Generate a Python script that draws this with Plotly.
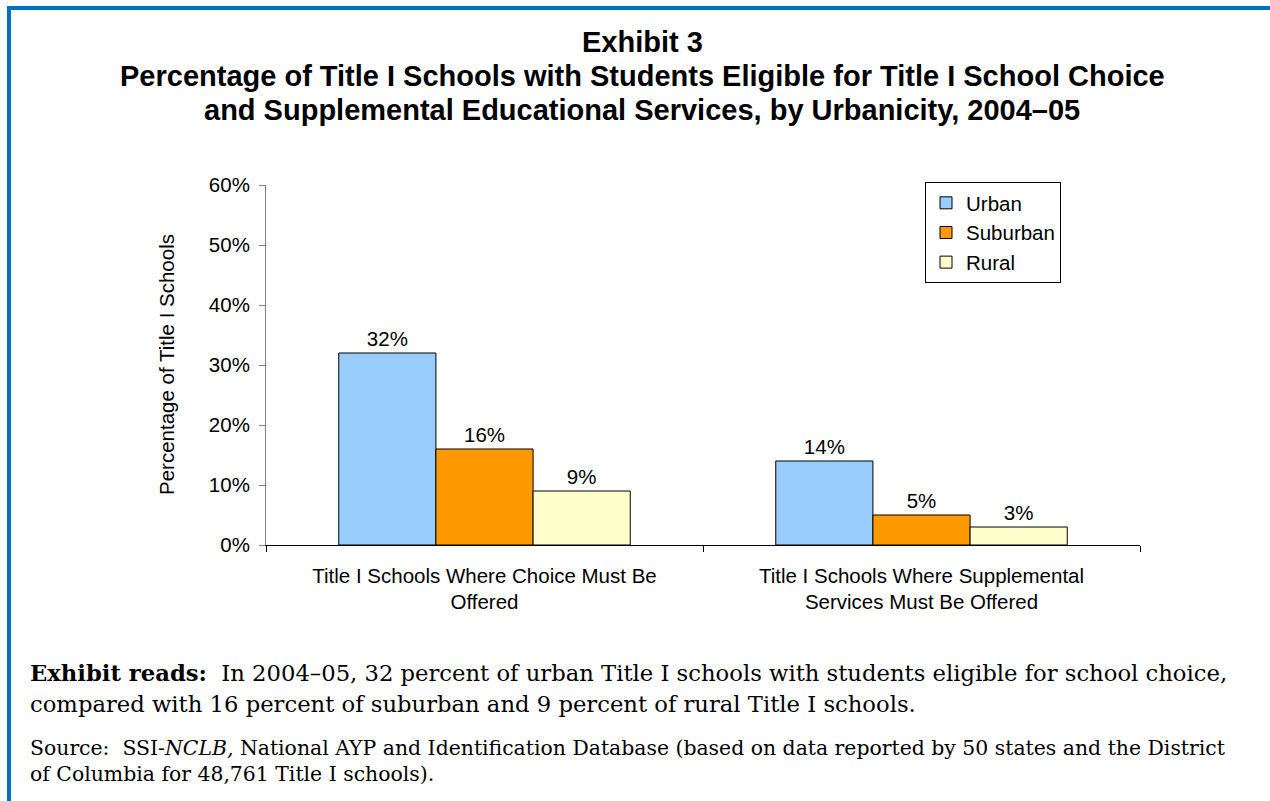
import plotly.graph_objects as go

categories = ["Title I Schools Where Choice Must Be<br>Offered",
              "Title I Schools Where Supplemental<br>Services Must Be Offered"]
series_names = ["Urban", "Suburban", "Rural"]
urban = [32, 14]
suburban = [16, 5]
rural = [9, 3]
y_ticks = [0, 10, 20, 30, 40, 50, 60]
y_tick_labels = ["0%", "10%", "20%", "30%", "40%", "50%", "60%"]
colors = ["#99CCFF", "#FF9900", "#FFFFCC"]

W, H = 1270, 801
L, R, T, B = 266, 1140, 185, 545  # plot area pixel box
PW, PH = R - L, B - T
SANS = "Liberation Sans, Arial, sans-serif"
SERIF = "DejaVu Serif, serif"
FS = 20.5


def px(x):
    return (x - L) / PW


def py(y):
    return (B - y) / PH


fig = go.Figure()
for name, vals, col in zip(series_names, [urban, suburban, rural], colors):
    fig.add_trace(go.Bar(
        x=categories, y=vals, name=name,
        marker=dict(color=col, line=dict(color="black", width=1)),
        texttemplate="%{y}%", textposition="outside",
        textfont=dict(family=SANS, size=FS, color="black"),
        cliponaxis=False,
    ))

ann = []
title_lines = [
    (42, "Exhibit 3"),
    (76, "Percentage of Title I Schools with Students Eligible for Title I School Choice"),
    (110, "and Supplemental Educational Services, by Urbanicity, 2004\u201305"),
]
for yy, t in title_lines:
    ann.append(dict(text="<b>%s</b>" % t, x=px(642), y=py(yy), xref="paper", yref="paper",
                    xanchor="center", yanchor="middle", showarrow=False,
                    font=dict(family=SANS, size=29, color="black")))

ann.append(dict(text="Percentage of Title I Schools", x=px(166), y=py(365), xref="paper", yref="paper",
                xanchor="center", yanchor="middle", showarrow=False, textangle=-90,
                font=dict(family=SANS, size=FS, color="black")))

notes = [
    (673, "<b>Exhibit reads:</b>  In 2004\u201305, 32 percent of urban Title I schools with students eligible for school choice,", 22.7),
    (704, "compared with 16 percent of suburban and 9 percent of rural Title I schools.", 22.7),
    (748, "Source:  SSI-<i>NCLB,</i> National AYP and Identification Database (based on data reported by 50 states and the District", 20.4),
    (774, "of Columbia for 48,761 Title I schools).", 20.4),
]
for yy, t, fs in notes:
    ann.append(dict(text=t, x=px(28), y=py(yy), xref="paper", yref="paper",
                    xanchor="left", yanchor="middle", showarrow=False,
                    font=dict(family=SERIF, size=fs, color="black")))

shapes = [
    dict(type="rect", xref="paper", yref="paper", x0=px(7), x1=px(1270), y0=py(6), y1=py(10),
         fillcolor="#0070C0", line=dict(width=0)),
    dict(type="rect", xref="paper", yref="paper", x0=px(7), x1=px(11), y0=py(6), y1=py(801),
         fillcolor="#0070C0", line=dict(width=0)),
]

fig.update_layout(
    width=W, height=H,
    margin=dict(l=L, r=W - R, t=T, b=H - B, autoexpand=False),
    paper_bgcolor="white", plot_bgcolor="white",
    barmode="group", bargap=0.333, bargroupgap=0,
    showlegend=True,
    legend=dict(x=px(925), y=py(182), xanchor="left", yanchor="top",
                bordercolor="black", borderwidth=1, bgcolor="white",
                font=dict(family=SANS, size=FS, color="black"),
                tracegroupgap=0, traceorder="normal"),
    annotations=ann,
    shapes=shapes,
    font=dict(family=SANS, size=FS, color="black"),
)
fig.update_xaxes(showline=True, linecolor="black", linewidth=1, ticks="outside", ticklen=6,
                 tickcolor="black", tickson="boundaries", showgrid=False, ticklabelstandoff=12,
                 tickfont=dict(family=SANS, size=FS, color="black"))
fig.update_yaxes(range=[0, 60], tickvals=y_ticks, ticktext=y_tick_labels,
                 showline=True, linecolor="#808080", linewidth=1, ticks="outside", ticklen=6,
                 tickcolor="#808080", showgrid=False, zeroline=False, ticklabelstandoff=5,
                 tickfont=dict(family=SANS, size=FS, color="black"))

fig.write_html("out.html", config={"displayModeBar": False},
               post_script="document.body.style.margin='0';")
